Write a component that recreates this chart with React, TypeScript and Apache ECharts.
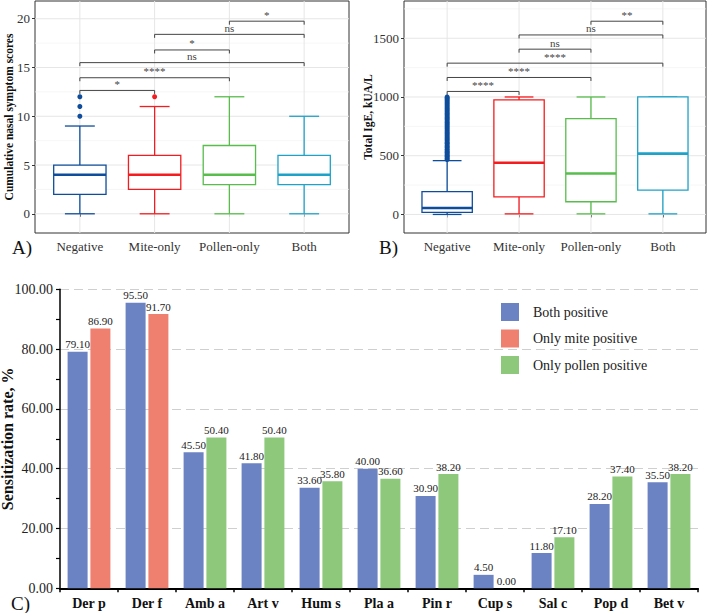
import React, { useEffect, useRef } from 'react';
import * as echarts from 'echarts';

const FONT = "'Liberation Serif', 'Times New Roman', Times, serif";

// ---------- Panels A & B (box plots) ----------
const groups = ['Negative', 'Mite-only', 'Pollen-only', 'Both'];
const groupColors = ['#0E4D9B', '#F41C1F', '#58BD4C', '#1FA2C8'];
const groupPositions = [1, 2, 3, 4];

// [position, lower whisker, Q1, median, Q3, upper whisker]
const scoreBoxes = [
  [1, 0, 2, 4, 5, 9],
  [2, 0, 2.5, 4, 6, 11],
  [3, 0, 3, 4, 7, 12],
  [4, 0, 3, 4, 6, 10],
];
const scoreOutliers = [
  [1, 10],
  [1, 11],
  [1, 12],
  [2, 12],
];
// [from, to, height]
const scoreBrackets = [
  [1, 2, 12.65],
  [1, 3, 13.95],
  [1, 4, 15.5],
  [2, 3, 16.8],
  [2, 4, 18.4],
  [3, 4, 19.75],
];
const scoreSig = ['*', '****', 'ns', '*', 'ns', '*'];
const scoreTicks = [0, 5, 10, 15, 20];
const scoreGridLines = [0, 2.5, 5, 7.5, 10, 12.5, 15, 17.5, 20];

const igeBoxes = [
  [1, 0, 18, 55, 195, 458],
  [2, 5, 150, 440, 975, 1000],
  [3, 5, 108, 348, 815, 1000],
  [4, 5, 207, 518, 1000, 1000],
];
const igeNegativeOutliers = [
  468, 476, 489, 497, 505, 516, 528, 533, 547, 556, 569, 578, 590, 604, 611, 626,
  637, 648, 659, 672, 684, 695, 707, 718, 731, 742, 756, 767, 779, 790, 803, 815,
  826, 838, 851, 862, 874, 886, 897, 909, 921, 934, 946, 958, 969, 981, 992, 1000,
];
const igeBrackets = [
  [1, 2, 1047],
  [1, 3, 1166],
  [1, 4, 1288],
  [2, 3, 1407],
  [2, 4, 1528],
  [3, 4, 1645],
];
const igeSig = ['****', '****', '****', 'ns', 'ns', '**'];
const igeTicks = [0, 500, 1000, 1500];
const igeGridLines = [0, 250, 500, 750, 1000, 1250, 1500, 1750];

// ---------- Panel C (bars) ----------
const allergens = ['Der p', 'Der f', 'Amb a', 'Art v', 'Hum s', 'Pla a', 'Pin r', 'Cup s', 'Sal c', 'Pop d', 'Bet v'];
const bothPositive = [79.1, 95.5, 45.5, 41.8, 33.6, 40.0, 30.9, 4.5, 11.8, 28.2, 35.5];
const onlyMite = [86.9, 91.7, null, null, null, null, null, null, null, null, null];
const onlyPollen = [null, null, 50.4, 50.4, 35.8, 36.6, 38.2, 0.0, 17.1, 37.4, 38.2];
const seriesNames = ['Both positive', 'Only mite positive', 'Only pollen positive'];
const barColors = ['#6C83C3', '#EF7F6F', '#8DC87B'];

const boxRender = (params: any, api: any) => {
  const x = api.value(0);
  const c = groupColors[Math.round(x) - 1];
  const pLo = api.coord([x, api.value(1)]);
  const pQ1 = api.coord([x, api.value(2)]);
  const pMed = api.coord([x, api.value(3)]);
  const pQ3 = api.coord([x, api.value(4)]);
  const pHi = api.coord([x, api.value(5)]);
  const bw = api.size([0.7, 0])[0];
  const cw = api.size([0.4, 0])[0];
  const cx = pMed[0];
  const lw = 1.3;
  const st = { stroke: c, lineWidth: lw };
  return {
    type: 'group',
    children: [
      { type: 'line', shape: { x1: cx, y1: pLo[1], x2: cx, y2: pQ1[1] }, style: st },
      { type: 'line', shape: { x1: cx, y1: pQ3[1], x2: cx, y2: pHi[1] }, style: st },
      { type: 'line', shape: { x1: cx - cw / 2, y1: pLo[1], x2: cx + cw / 2, y2: pLo[1] }, style: st },
      { type: 'line', shape: { x1: cx - cw / 2, y1: pHi[1], x2: cx + cw / 2, y2: pHi[1] }, style: st },
      {
        type: 'rect',
        shape: { x: cx - bw / 2, y: pQ3[1], width: bw, height: pQ1[1] - pQ3[1] },
        style: { fill: '#ffffff', stroke: c, lineWidth: lw },
      },
      { type: 'line', shape: { x1: cx - bw / 2, y1: pMed[1], x2: cx + bw / 2, y2: pMed[1] }, style: { stroke: c, lineWidth: 2.6 } },
    ],
  };
};

const bracketRender = (labels: string[]) => (params: any, api: any) => {
  const a = api.coord([api.value(0), api.value(2)]);
  const b = api.coord([api.value(1), api.value(2)]);
  const tip = 3.5;
  return {
    type: 'group',
    children: [
      {
        type: 'polyline',
        shape: { points: [[a[0], a[1] + tip], [a[0], a[1]], [b[0], b[1]], [b[0], b[1] + tip]] },
        style: { stroke: '#444', lineWidth: 1, fill: null },
      },
      {
        type: 'text',
        x: (a[0] + b[0]) / 2,
        y: a[1] - 1,
        style: {
          text: labels[params.dataIndex],
          fontSize: 11,
          fontFamily: FONT,
          fill: '#444',
          align: 'center',
          verticalAlign: 'bottom',
        },
      },
    ],
  };
};

const hGridRender = (major: number[]) => (params: any, api: any) => {
  const v = api.value(1);
  const y = api.coord([api.value(0), v])[1];
  const cs = params.coordSys;
  const isMajor = major.indexOf(v) >= 0;
  return {
    type: 'line',
    shape: { x1: cs.x, y1: y, x2: cs.x + cs.width, y2: y },
    style: { stroke: isMajor ? '#E6E6E6' : '#F2F2F2', lineWidth: isMajor ? 1 : 0.7 },
  };
};

const vGridRender = (params: any, api: any) => {
  const x = api.coord([api.value(0), api.value(1)])[0];
  const cs = params.coordSys;
  return {
    type: 'line',
    shape: { x1: x, y1: cs.y, x2: x, y2: cs.y + cs.height },
    style: { stroke: '#E6E6E6', lineWidth: 1 },
  };
};

function boxPanelAxes(gridIndex: number, ymin: number, ymax: number, ticks: number[], name: string, nameGap: number) {
  const x = {
    gridIndex,
    type: 'value',
    min: 0.4,
    max: 4.6,
    axisLine: { show: false },
    splitLine: { show: false },
    axisTick: { show: true, customValues: groupPositions, length: 3, lineStyle: { color: '#333' } },
    axisLabel: {
      customValues: groupPositions,
      formatter: (v: number) => groups[Math.round(v) - 1],
      fontSize: 13,
      fontFamily: FONT,
      color: '#333',
      margin: 7,
    },
  };
  const y = {
    gridIndex,
    type: 'value',
    min: ymin,
    max: ymax,
    axisLine: { show: false },
    splitLine: { show: false },
    axisTick: { show: true, customValues: ticks, length: 3, lineStyle: { color: '#333' } },
    axisLabel: {
      customValues: ticks,
      formatter: (v: number) => String(v),
      fontSize: 13,
      fontFamily: FONT,
      color: '#333',
      margin: 5,
    },
    name,
    nameLocation: 'middle',
    nameGap,
    nameMoveOverlap: false,
    nameTextStyle: { fontWeight: 'bold', fontSize: 11.5, fontFamily: FONT, color: '#111' },
  };
  return { x, y };
}

function boxPanelSeries(idx: number, boxes: number[][], outliers: number[][], brackets: number[][], sig: string[], gridLines: number[], ticks: number[]) {
  return [
    {
      type: 'custom',
      xAxisIndex: idx,
      yAxisIndex: idx,
      z: 1,
      silent: true,
      renderItem: hGridRender(ticks),
      data: gridLines.map((v) => [2.5, v]),
    },
    {
      type: 'custom',
      xAxisIndex: idx,
      yAxisIndex: idx,
      z: 1,
      silent: true,
      renderItem: vGridRender,
      data: groupPositions.map((p) => [p, 0]),
    },
    {
      type: 'custom',
      xAxisIndex: idx,
      yAxisIndex: idx,
      z: 3,
      silent: true,
      renderItem: boxRender,
      data: boxes,
    },
    {
      type: 'scatter',
      xAxisIndex: idx,
      yAxisIndex: idx,
      z: 4,
      silent: true,
      symbolSize: 5,
      data: outliers.map((o) => ({ value: o, itemStyle: { color: groupColors[o[0] - 1], opacity: 1 } })),
    },
    {
      type: 'custom',
      xAxisIndex: idx,
      yAxisIndex: idx,
      z: 4,
      silent: true,
      renderItem: bracketRender(sig),
      data: brackets,
    },
  ];
}

export default function App() {
  const ref = useRef<HTMLDivElement>(null);
  useEffect(() => {
    if (!ref.current) return;
    const chart = echarts.init(ref.current, undefined, { renderer: 'svg' });
    const a = boxPanelAxes(0, -1.97, 21.82, scoreTicks, 'Cumulative nasal symptom scores', 20);
    const b = boxPanelAxes(1, -158, 1817, igeTicks, 'Total IgE, kUA/L', 30);
    const labelFmt = (p: any) => (p.value == null ? '' : Number(p.value).toFixed(2));
    const barLabel = {
      show: true,
      position: 'top',
      distance: 2,
      fontSize: 11,
      fontFamily: FONT,
      color: '#222',
      formatter: labelFmt,
    };
    chart.setOption({
      animation: false,
      backgroundColor: '#ffffff',
      textStyle: { fontFamily: FONT },
      grid: [
        { left: 35, top: 1, width: 314, height: 232, show: true, borderColor: '#333', borderWidth: 1, backgroundColor: '#fff', outerBoundsMode: 'none' },
        { left: 404, top: 1, width: 302, height: 232, show: true, borderColor: '#333', borderWidth: 1, backgroundColor: '#fff', outerBoundsMode: 'none' },
        { left: 60, top: 289.3, width: 638, height: 299, outerBoundsMode: 'none' },
      ],
      xAxis: [
        a.x,
        b.x,
        {
          gridIndex: 2,
          type: 'category',
          data: allergens,
          axisLine: { show: true, lineStyle: { color: '#000', width: 2 } },
          axisTick: { show: true, length: 4, lineStyle: { color: '#000', width: 1.5 } },
          axisLabel: { fontWeight: 'bold', fontSize: 14, fontFamily: FONT, color: '#111', margin: 8 },
          splitLine: { show: false },
        },
      ],
      yAxis: [
        a.y,
        b.y,
        {
          gridIndex: 2,
          type: 'value',
          min: 0,
          max: 100,
          interval: 20,
          axisLine: { show: true, lineStyle: { color: '#000', width: 1.5 } },
          axisTick: { show: true, length: 4, lineStyle: { color: '#000', width: 1.2 } },
          minorTick: { show: true, splitNumber: 2, length: 4, lineStyle: { color: '#000', width: 1.2 } },
          axisLabel: { formatter: (v: number) => v.toFixed(2), fontSize: 14, fontFamily: FONT, color: '#222', margin: 7 },
          splitLine: { show: true, lineStyle: { color: '#CFCFCF', width: 1.2, type: [9, 5] } },
          name: 'Sensitization rate, %',
          nameLocation: 'middle',
          nameGap: 46,
          nameMoveOverlap: false,
          nameTextStyle: { fontWeight: 'bold', fontSize: 16, lineHeight: 14, fontFamily: FONT, color: '#111' },
        },
      ],
      legend: {
        data: seriesNames,
        orient: 'vertical',
        left: 501,
        top: 303,
        padding: 0,
        itemWidth: 18,
        itemHeight: 18,
        itemGap: 8.5,
        icon: 'rect',
        selectedMode: false,
        textStyle: { fontSize: 14, fontFamily: FONT, color: '#222', padding: [0, 0, 0, 9] },
      },
      graphic: [
        { type: 'text', left: 12, top: 238, style: { text: 'A)', fontSize: 19, fontFamily: FONT, fill: '#111' } },
        { type: 'text', left: 379, top: 238, style: { text: 'B)', fontSize: 19, fontFamily: FONT, fill: '#111' } },
        { type: 'text', left: 11, top: 594, style: { text: 'C)', fontSize: 19, fontFamily: FONT, fill: '#111' } },
      ],
      series: [
        ...boxPanelSeries(0, scoreBoxes, scoreOutliers, scoreBrackets, scoreSig, scoreGridLines, scoreTicks),
        ...boxPanelSeries(1, igeBoxes, igeNegativeOutliers.map((v) => [1, v]), igeBrackets, igeSig, igeGridLines, igeTicks),
        {
          type: 'bar',
          name: seriesNames[0],
          xAxisIndex: 2,
          yAxisIndex: 2,
          data: bothPositive,
          barWidth: 20,
          itemStyle: { color: barColors[0] },
          label: barLabel,
        },
        {
          type: 'bar',
          name: seriesNames[1],
          xAxisIndex: 2,
          yAxisIndex: 2,
          stack: 'single',
          data: onlyMite,
          barWidth: 20,
          barGap: '14%',
          itemStyle: { color: barColors[1] },
          label: barLabel,
        },
        {
          type: 'bar',
          name: seriesNames[2],
          xAxisIndex: 2,
          yAxisIndex: 2,
          stack: 'single',
          data: onlyPollen,
          barWidth: 20,
          barGap: '14%',
          itemStyle: { color: barColors[2] },
          label: barLabel,
        },
      ],
    });
    return () => chart.dispose();
  }, []);
  return <div ref={ref} style={{ position: 'fixed', left: 0, top: 0, width: 707, height: 613 }} />;
}
